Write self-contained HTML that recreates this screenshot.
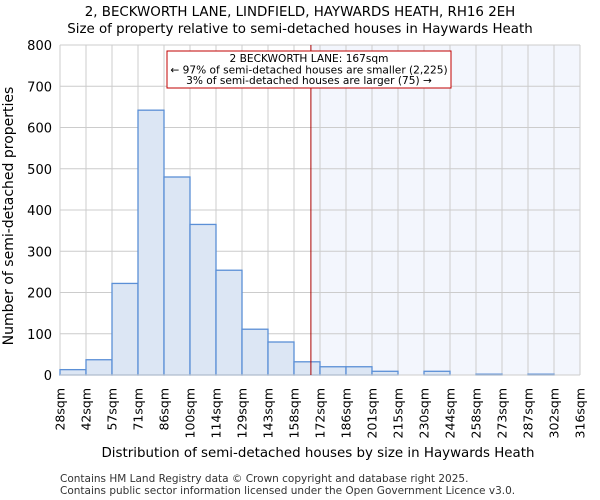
<!DOCTYPE html>
<html><head><meta charset="utf-8"><style>
body{margin:0;background:#fff;}
svg{display:block;font-family:"DejaVu Sans","Liberation Sans",sans-serif;}
</style></head><body>
<svg id="c" width="600" height="500">
<text x="300" y="16" text-anchor="middle" font-size="13.4">2, BECKWORTH LANE, LINDFIELD, HAYWARDS HEATH, RH16 2EH</text>
<text x="300" y="33" text-anchor="middle" font-size="13.4">Size of property relative to semi-detached houses in Haywards Heath</text>
<g id="plot"></g>
<text x="318" y="457" text-anchor="middle" font-size="13.4">Distribution of semi-detached houses by size in Haywards Heath</text>
<text transform="translate(13,216) rotate(-90)" text-anchor="middle" font-size="14">Number of semi-detached properties</text>
<text x="60" y="482" font-size="10.5" fill="#333">Contains HM Land Registry data © Crown copyright and database right 2025.</text>
<text x="60" y="494" font-size="10.5" fill="#333">Contains public sector information licensed under the Open Government Licence v3.0.</text>
</svg>
<script>
const binLabels=["28sqm","42sqm","57sqm","71sqm","86sqm","100sqm","114sqm","129sqm","143sqm","158sqm","172sqm","186sqm","201sqm","215sqm","230sqm","244sqm","258sqm","273sqm","287sqm","302sqm","316sqm"];
const counts=[13,37,222,642,480,365,254,111,80,32,20,20,9,0,9,0,2,0,2,0];
const yTicks=[0,100,200,300,400,500,600,700,800];
const markerIndex=9.65;
const NS="http://www.w3.org/2000/svg";
const L=60,R=580,T=45,B=375,yMax=800;
const n=counts.length;
const xs=i=>L+(R-L)*i/n;
const ys=v=>B-(B-T)*v/yMax;
const g=document.getElementById('plot');
function mk(t,a){const e=document.createElementNS(NS,t);for(const k in a)e.setAttribute(k,a[k]);g.appendChild(e);return e;}
const mx=xs(markerIndex);
let e=mk('rect',{x:mx,y:T,width:R-mx,height:B-T,fill:'#f3f6fd'});


for(let i=0;i<=n;i++){e=mk('line',{x1:xs(i),x2:xs(i),y1:T,y2:B,stroke:'#cccccc','stroke-width':1});

}
yTicks.forEach(v=>{e=mk('line',{x1:L,x2:R,y1:ys(v),y2:ys(v),stroke:'#cccccc','stroke-width':1});


const t=mk('text',{x:L-8,y:ys(v)+5,'text-anchor':'end','font-size':13});t.textContent=v;

});
counts.forEach((c,i)=>{if(c<=0)return;e=mk('rect',{x:xs(i),y:ys(c),width:xs(i+1)-xs(i),height:B-ys(c),fill:'#dce6f4',stroke:'#5b8fd6','stroke-width':1.3});

});
binLabels.forEach((s,i)=>{const t=mk('text',{transform:`translate(${xs(i)+4.5},388) rotate(-90)`,'text-anchor':'end','font-size':12.5});t.textContent=s;

});
e=mk('line',{x1:L,x2:R,y1:B,y2:B,stroke:'#cccccc'});


e=mk('line',{x1:mx,x2:mx,y1:T,y2:B,stroke:'#aa0000','stroke-width':1});


e=mk('rect',{x:167,y:51,width:284,height:37,fill:'#fff',stroke:'#c00000','stroke-width':1});


[["2 BECKWORTH LANE: 167sqm",62],["← 97% of semi-detached houses are smaller (2,225)",73.5],["3% of semi-detached houses are larger (75) →",84]].forEach(([s,y])=>{const t=mk('text',{x:309,y:y,'text-anchor':'middle','font-size':10.6});t.textContent=s;

});
</script>
</body></html>
